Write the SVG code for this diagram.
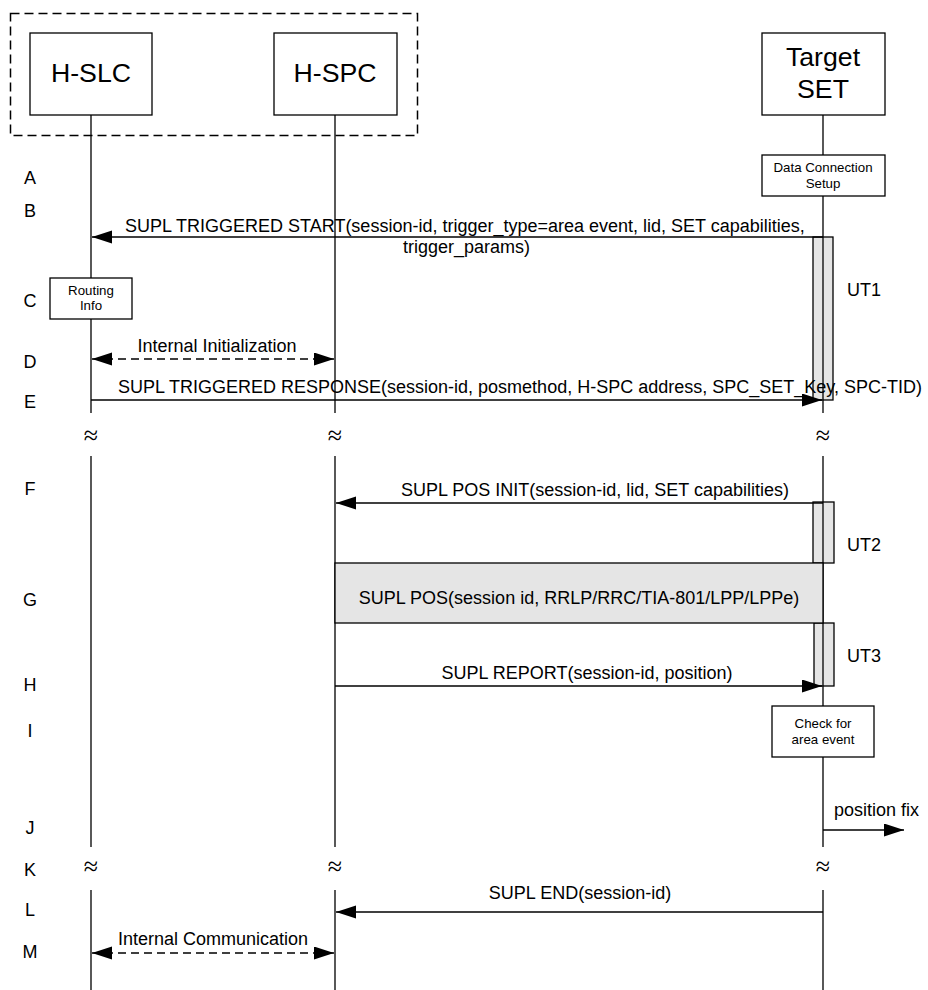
<svg xmlns="http://www.w3.org/2000/svg" width="928" height="990" viewBox="0 0 928 990">
<defs>
<style>
text{font-family:"Liberation Sans",Arial,sans-serif;fill:#000}
.big{font-size:26.7px;text-anchor:middle}
.msg{font-size:18px}
.mid{text-anchor:middle}
.small{font-size:13.3px;text-anchor:middle}
.row{font-size:18px;text-anchor:middle}
.sq{font-family:"Liberation Serif","Times New Roman",serif;font-size:26px;text-anchor:middle}
.box{fill:#fff;stroke:#000;stroke-width:1.3}
.bar{fill:#e5e5e5;stroke:#000;stroke-width:1.3}
.life{stroke:#000;stroke-width:1.3;fill:none}
.arr{stroke:#000;stroke-width:1.5;fill:none}
.dash{stroke:#000;stroke-width:1.5;fill:none;stroke-dasharray:8,5}
</style>
<marker id="ah" markerUnits="userSpaceOnUse" markerWidth="21" markerHeight="14" refX="20" refY="6.5" orient="auto-start-reverse" viewBox="0 0 21 14">
<path d="M0,0 L20,6.5 L0,13 z" fill="#000"/>
</marker>
</defs>
<rect width="928" height="990" fill="#fff"/>

<g id="home-network">
<rect x="10.5" y="13.5" width="407" height="122" fill="none" stroke="#000" stroke-width="1.5" stroke-dasharray="9,5"/>
</g>

<g id="lifelines">
<path class="life" d="M91,115 V413 M91,456 V847 M91,890 V990"/>
<path class="life" d="M335,115 V413 M335,456 V847 M335,890 V990"/>
<path class="life" d="M823,115 V413 M823,456 V847 M823,890 V990"/>
<text class="sq" x="91" y="444">≈</text>
<text class="sq" x="335" y="444">≈</text>
<text class="sq" x="823" y="444">≈</text>
<text class="sq" x="91" y="875">≈</text>
<text class="sq" x="335" y="875">≈</text>
<text class="sq" x="823" y="875">≈</text>
</g>

<g id="h-slc">
<rect class="box" x="30" y="33" width="122" height="82"/>
<text class="big" x="91" y="82">H-SLC</text>
</g>
<g id="h-spc">
<rect class="box" x="274" y="33" width="123" height="82"/>
<text class="big" x="335" y="82">H-SPC</text>
</g>
<g id="target-set">
<rect class="box" x="762" y="33" width="123" height="82"/>
<text class="big" x="823" y="66">Target</text>
<text class="big" x="823" y="98">SET</text>
</g>

<g id="data-connection-setup">
<rect class="box" x="762" y="155" width="123" height="41"/>
<text class="small" x="823" y="172">Data Connection</text>
<text class="small" x="823" y="188">Setup</text>
</g>

<g id="routing-info">
<rect class="box" x="50" y="278" width="82" height="41"/>
<text class="small" x="91" y="295">Routing</text>
<text class="small" x="91" y="310">Info</text>
</g>

<g id="check-area-event">
<rect class="box" x="772" y="706" width="102" height="51"/>
<text class="small" x="823" y="728">Check for</text>
<text class="small" x="823" y="744">area event</text>
</g>

<g id="timers">
<rect class="bar" x="813" y="237" width="20" height="163"/>
<line class="life" x1="823" y1="237" x2="823" y2="400"/>
<text class="msg" x="847" y="296">UT1</text>
<rect class="bar" x="813" y="502" width="21" height="61"/>
<line class="life" x1="823" y1="502" x2="823" y2="563"/>
<text class="msg" x="847" y="551">UT2</text>
<rect class="bar" x="814" y="623" width="20" height="63"/>
<line class="life" x1="823" y1="623" x2="823" y2="686"/>
<text class="msg" x="847" y="662">UT3</text>
</g>

<g id="supl-pos">
<rect class="bar" x="335" y="563" width="488" height="60"/>
<text class="msg mid" x="579" y="604">SUPL POS(session id, RRLP/RRC/TIA-801/LPP/LPPe)</text>
</g>

<g id="connectors">
<line class="arr" x1="823" y1="237" x2="92" y2="237" marker-end="url(#ah)"/>
<text class="msg" x="125" y="232">SUPL TRIGGERED START(session-id, trigger_type=area event, lid, SET capabilities,</text>
<text class="msg" x="403" y="253">trigger_params)</text>

<line class="dash" x1="92" y1="359" x2="334" y2="359" marker-start="url(#ah)" marker-end="url(#ah)"/>
<text class="msg mid" x="217" y="352">Internal Initialization</text>

<line class="arr" x1="91" y1="400" x2="822" y2="400" marker-end="url(#ah)"/>
<text class="msg" x="118" y="393">SUPL TRIGGERED RESPONSE(session-id, posmethod, H-SPC address, SPC_SET_Key, SPC-TID)</text>

<line class="arr" x1="823" y1="503" x2="336" y2="503" marker-end="url(#ah)"/>
<text class="msg mid" x="595" y="496">SUPL POS INIT(session-id, lid, SET capabilities)</text>

<line class="arr" x1="335" y1="686" x2="822" y2="686" marker-end="url(#ah)"/>
<text class="msg mid" x="587" y="679">SUPL REPORT(session-id, position)</text>

<line class="arr" x1="823" y1="830" x2="904" y2="830" marker-end="url(#ah)"/>
<text class="msg" x="834" y="816">position fix</text>

<line class="arr" x1="823" y1="912" x2="336" y2="912" marker-end="url(#ah)"/>
<text class="msg mid" x="580" y="899">SUPL END(session-id)</text>

<line class="dash" x1="92" y1="953" x2="334" y2="953" marker-start="url(#ah)" marker-end="url(#ah)"/>
<text class="msg mid" x="213" y="945">Internal Communication</text>
</g>

<g id="row-labels">
<text class="row" x="30" y="184">A</text>
<text class="row" x="30" y="217">B</text>
<text class="row" x="30" y="307">C</text>
<text class="row" x="30" y="368">D</text>
<text class="row" x="30" y="408">E</text>
<text class="row" x="30" y="495">F</text>
<text class="row" x="30" y="606">G</text>
<text class="row" x="30" y="691">H</text>
<text class="row" x="30" y="737">I</text>
<text class="row" x="30" y="834">J</text>
<text class="row" x="30" y="876">K</text>
<text class="row" x="30" y="916">L</text>
<text class="row" x="30" y="958">M</text>
</g>
</svg>
